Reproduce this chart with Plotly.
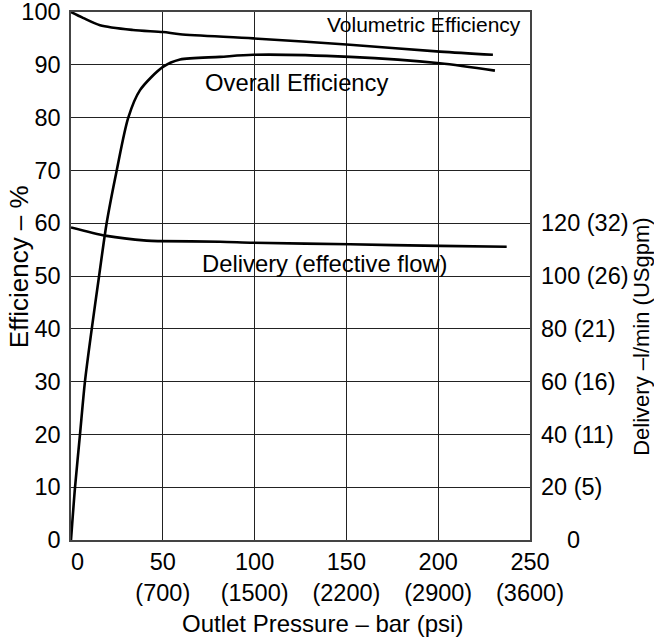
import plotly.graph_objects as go

# Outlet pressure (bar) and efficiencies (%)
vol_p = [0, 6.5, 15.8, 33.7, 50.1, 59.4, 99.3, 151.9, 200.9, 229.8]
vol_eff = [100, 98.9, 97.5, 96.6, 96.2, 95.8, 95.0, 93.8, 92.5, 91.9]

ovr_p = [0, 2.2, 4.9, 7.6, 11.3, 15.3, 19.4, 24.9, 31.2, 37.6, 50.1, 59.4, 81.2, 99.3, 151.9, 200.9, 230.9]
ovr_eff = [0, 10, 20, 30, 40, 50, 60, 70, 80, 85.2, 89.6, 91.0, 91.5, 91.9, 91.5, 90.3, 88.9]

# Delivery (l/min)
del_p = [0, 19.4, 41.2, 48.5, 81.2, 99.3, 152.0, 201.0, 237.3]
del_flow = [118.4, 115.2, 113.4, 113.2, 113.0, 112.6, 112.0, 111.4, 111.1]

x_ticks = [0, 50, 100, 150, 200, 250]
x_ticktext = ["\u00a0\u00a00", "50<br>(700)", "100<br>(1500)", "150<br>(2200)", "200<br>(2900)", "250<br>(3600)"]
y_ticks = [0, 10, 20, 30, 40, 50, 60, 70, 80, 90, 100]
y2_ticks = [0, 20, 40, 60, 80, 100, 120]
y2_ticktext = ["\u00a0\u00a0\u00a0\u00a00", "20 (5)", "40 (11)", "60 (16)", "80 (21)", "100 (26)", "120 (32)"]

FONT = "Arial, Liberation Sans, sans-serif"
TICK = 23.5
line_style = dict(color="black", width=2.6, shape="spline", smoothing=0.8)

fig = go.Figure()
fig.add_trace(go.Scatter(x=vol_p, y=vol_eff, mode="lines", line=line_style, showlegend=False))
fig.add_trace(go.Scatter(x=ovr_p, y=ovr_eff, mode="lines", line=line_style, showlegend=False))
fig.add_trace(go.Scatter(x=del_p, y=del_flow, mode="lines", line=line_style, yaxis="y2", showlegend=False))

grid = "#222222"
fig.update_layout(
    width=654, height=640,
    margin=dict(l=71, r=124, t=12, b=100, autoexpand=False),
    paper_bgcolor="white", plot_bgcolor="white",
    font=dict(family=FONT, size=TICK, color="black"),
    xaxis=dict(range=[0, 250], tickvals=x_ticks, ticktext=x_ticktext, automargin=False,
               ticklabeloverflow="allow",
               showgrid=True, gridcolor=grid, gridwidth=1.2,
               showline=True, mirror=True, linecolor="#444", linewidth=1.5,
               zeroline=False, ticks="", tickfont=dict(size=TICK)),
    yaxis=dict(range=[0, 100], tickvals=y_ticks, automargin=False,
               ticklabeloverflow="allow", ticklabelstandoff=4,
               showgrid=True, gridcolor=grid, gridwidth=1.2,
               showline=True, mirror=True, linecolor="#444", linewidth=1.5,
               zeroline=False, ticks="", tickfont=dict(size=TICK)),
    yaxis2=dict(range=[0, 200], overlaying="y", side="right", automargin=False,
                ticklabeloverflow="allow", ticklabelstandoff=10,
                tickvals=y2_ticks, ticktext=y2_ticktext,
                showgrid=False, zeroline=False, showline=False, ticks="",
                tickfont=dict(size=TICK)),
    annotations=[
        dict(text="Volumetric Efficiency", x=192.5, y=97.6, xref="x", yref="y",
             showarrow=False, font=dict(size=21), xanchor="center", yanchor="middle"),
        dict(text="Overall Efficiency", x=122.8, y=86.6, xref="x", yref="y",
             showarrow=False, font=dict(size=23.8), xanchor="center", yanchor="middle"),
        dict(text="Delivery (effective flow)", x=138.3, y=52.3, xref="x", yref="y",
             showarrow=False, font=dict(size=23.8), xanchor="center", yanchor="middle"),
        dict(text="Outlet Pressure \u2013 bar (psi)", x=0.549, y=-0.159, xref="paper", yref="paper",
             showarrow=False, font=dict(size=24), xanchor="center", yanchor="middle"),
        dict(text="Efficiency \u2013 %", x=-0.113, y=0.517, xref="paper", yref="paper",
             showarrow=False, font=dict(size=26), textangle=-90, xanchor="center", yanchor="middle"),
        dict(text="Delivery \u2013l/min (USgpm)", x=1.243, y=0.384, xref="paper", yref="paper",
             showarrow=False, font=dict(size=22), textangle=-90, xanchor="center", yanchor="middle"),
    ],
)

fig.write_html("out.html", config={"displayModeBar": False},
               post_script="document.body.style.margin='0';")
